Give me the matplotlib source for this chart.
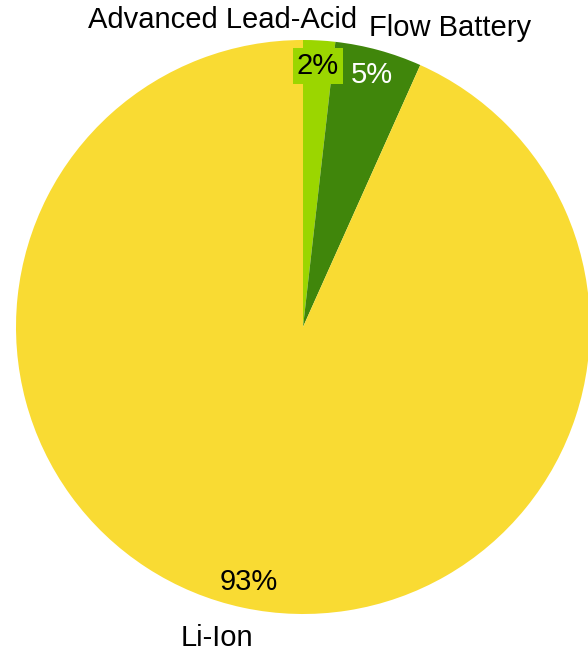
import matplotlib.pyplot as plt

plt.rcParams['font.family'] = ['Liberation Sans', 'DejaVu Sans']

# storage technology shares
labels = ['Advanced Lead-Acid', 'Flow Battery', 'Li-Ion']
shares = [1.8, 4.9, 93.3]
colors = ['#9BD600', '#40860B', '#F9DB33']
pct_colors = ['black', 'white', 'black']
# where the category names sit (data coords, radius = 1)
label_pos = [(-0.282, 1.07), (0.512, 1.042), (-0.300, -1.084)]

fig = plt.figure(figsize=(5.88, 6.51), dpi=100)
ax = fig.add_axes([16/588, 37/651, 574/588, 574/651])

wedges, texts, autotexts = ax.pie(shares,
                                  labels=labels,
                                  colors=colors,
                                  startangle=90,
                                  counterclock=False,
                                  autopct='%.0f%%',
                                  pctdistance=0.91,
                                  textprops={'fontsize': 21})

for t, pos in zip(texts, label_pos):
    t.set_position(pos)
    t.set_ha('center')
    t.set_va('center')
    t.set_clip_on(False)

for t, c in zip(autotexts, pct_colors):
    t.set_color(c)
autotexts[0].set_bbox(dict(facecolor=colors[0], edgecolor='none', pad=3))

ax.set_xlim(-1, 1)
ax.set_ylim(-1, 1)
ax.set_aspect('equal')
ax.axis('off')

fig.savefig('out.png', dpi=100)
